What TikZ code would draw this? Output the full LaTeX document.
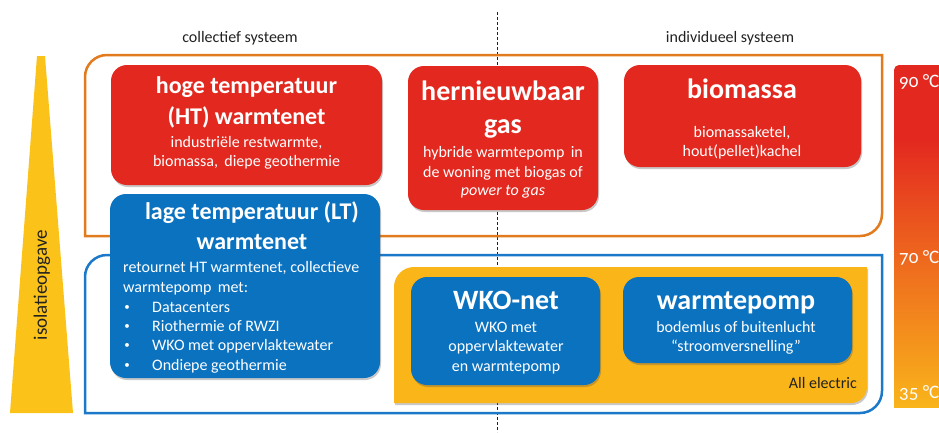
\documentclass[tikz,border=0pt]{standalone}
\usepackage{fontspec}
\setmainfont{Carlito}
\usetikzlibrary{shadows}
\definecolor{hred}{HTML}{E3291F}
\definecolor{hblue}{HTML}{0B72C0}
\definecolor{frameorange}{HTML}{E27A1E}
\definecolor{frameblue}{HTML}{1C79C9}
\definecolor{triyellow}{HTML}{FBC21A}
\definecolor{elyellow}{HTML}{FAB519}
\definecolor{darktext}{HTML}{222222}
\definecolor{tred}{HTML}{E3291F}
\definecolor{torange}{HTML}{EE681E}
\definecolor{tyellow}{HTML}{F9B41B}
\tikzset{
  boxshadow/.style={drop shadow={shadow xshift=1pt,shadow yshift=-2pt,opacity=0.3,fill=black!70}},
  redbox/.style={fill=hred,rounded corners=16pt,inner sep=0pt,boxshadow},
  bluebox/.style={fill=hblue,rounded corners=16pt,inner sep=0pt,boxshadow},
  bigtitle/.style={text=white,inner sep=0pt,anchor=base,font=\fontsize{28}{30}\selectfont\bfseries},
  midtitle/.style={text=white,inner sep=0pt,anchor=base,font=\fontsize{24}{28}\selectfont\bfseries},
  subtext/.style={text=white,inner sep=0pt,anchor=base,font=\fontsize{16}{19}\selectfont},
  lefttext/.style={text=white,inner sep=0pt,anchor=base west,font=\fontsize{16}{19}\selectfont},
  bulletmark/.style={text=white,inner sep=0pt,anchor=base,font=\fontsize{11}{13}\selectfont},
  header/.style={text=darktext,inner sep=0pt,anchor=base,font=\fontsize{16}{19}\selectfont},
  templabel/.style={text=white,inner sep=0pt,anchor=base west,font=\fontsize{19}{22}\selectfont\addfontfeatures{Numbers=OldStyle}},
}
\begin{document}
\begin{tikzpicture}[x=1pt,y=-1pt]
\useasboundingbox[fill=white] (0,0) rectangle (939,432);

% dashed divider
\coordinate (dtop) at (497,12);
\coordinate (dbot) at (497,432);
\draw[darktext,line width=0.8pt,dash pattern=on 3pt off 2pt] (dtop) -- (dbot);

% headers
\node[header] (hcol) at (240,42) {collectief systeem};
\node[header] (hind) at (730,42) {individueel systeem};

% isolatieopgave wedge
\fill[triyellow] (37,56) -- (45,56) -- (73,413) -- (10,413) -- cycle;
\node[text=darktext,rotate=90,inner sep=0pt,font=\fontsize{19}{22}\selectfont] (iso) at (42,285) {isolatieopgave};

% temperature bar
\fill[tred,rounded corners=5pt] (894,141) -- (894,65) -- (945,65) [sharp corners] -- (945,141) -- cycle;
\shade[top color=tred,bottom color=torange] (894,140) rectangle (945,259);
\shade[top color=torange,bottom color=tyellow] (894,258) rectangle (945,407);
\node[templabel] (t90) at (899,87) {90 °C};
\node[templabel] (t70) at (899,263) {70 °C};
\node[templabel] (t35) at (899,398) {35 °C};

% frames
\draw[frameorange,line width=2.5pt]
  (85,236) [rounded corners=22pt] -- (85,55) [sharp corners] -- (882,55) [rounded corners=22pt] -- (882,236) [sharp corners] -- cycle;
\draw[frameblue,line width=2.5pt]
  (85,413) [rounded corners=22pt] -- (85,255) [sharp corners] -- (882,255) [rounded corners=22pt] -- (882,413) [sharp corners] -- cycle;

% all electric area
\fill[elyellow,boxshadow]
  (394,403) [rounded corners=20pt] -- (394,267) [sharp corners] -- (867,267) [rounded corners=16pt] -- (867,403) [sharp corners] -- cycle;
\node[text=darktext,inner sep=0pt,anchor=base east,font=\fontsize{16}{19}\selectfont] (allel) at (857,388) {All electric};

% HT warmtenet
\node[redbox,minimum width=271pt,minimum height=120pt] (ht) at (246.5,125) {};
\node[midtitle] (ht1) at (246.5,93) {hoge temperatuur};
\node[midtitle] (ht2) at (246.5,124) {(HT) warmtenet};
\node[subtext] (ht3) at (246.5,147) {industriële restwarmte,};
\node[subtext] (ht4) at (246.5,166) {biomassa,\, diepe geothermie};

% hernieuwbaar gas
\node[redbox,minimum width=190pt,minimum height=144pt] (gas) at (503,138) {};
\node[bigtitle] (gas1) at (503,100) {hernieuwbaar};
\node[bigtitle] (gas2) at (503,133) {gas};
\node[subtext] (gas3) at (503,157) {hybride warmtepomp\, in};
\node[subtext] (gas4) at (503,177) {de woning met biogas of};
\node[subtext] (gas5) at (503,195) {\itshape power to gas};

% biomassa
\node[redbox,minimum width=237pt,minimum height=102pt] (bio) at (742.5,116) {};
\node[bigtitle] (bio1) at (742,98) {biomassa};
\node[subtext] (bio2) at (742,137) {biomassaketel,};
\node[subtext] (bio3) at (742,156) {hout(pellet)kachel};

% LT warmtenet
\node[bluebox,minimum width=270pt,minimum height=184pt] (lt) at (245,286) {};
\node[midtitle] (lt1) at (252,219) {lage temperatuur (LT)};
\node[midtitle] (lt2) at (252,249) {warmtenet};
\node[lefttext] (lt3) at (123,272) {retournet HT warmtenet, collectieve};
\node[lefttext] (lt4) at (123,292) {warmtepomp\, met:};
\node[bulletmark] (b1) at (127,310) {•};
\node[lefttext] (lt5) at (152,312) {Datacenters};
\node[bulletmark] (b2) at (127,329) {•};
\node[lefttext] (lt6) at (152,331) {Riothermie of RWZI};
\node[bulletmark] (b3) at (127,348) {•};
\node[lefttext] (lt7) at (152,350) {WKO met oppervlaktewater};
\node[bulletmark] (b4) at (127,368) {•};
\node[lefttext] (lt8) at (152,370) {Ondiepe geothermie};

% WKO-net
\node[bluebox,minimum width=189pt,minimum height=108pt] (wko) at (505.5,331) {};
\node[bigtitle] (wko1) at (506,309) {WKO-net};
\node[subtext] (wko2) at (506,332) {WKO met};
\node[subtext] (wko3) at (506,351) {oppervlaktewater};
\node[subtext] (wko4) at (506,371) {en warmtepomp};

% warmtepomp
\node[bluebox,minimum width=229pt,minimum height=86pt] (wp) at (737.5,320) {};
\node[bigtitle] (wp1) at (736,309) {warmtepomp};
\node[subtext] (wp2) at (736,332) {bodemlus of buitenlucht};
\node[subtext] (wp3) at (736,351) {“stroomversnelling”};
\end{tikzpicture}
\end{document}
